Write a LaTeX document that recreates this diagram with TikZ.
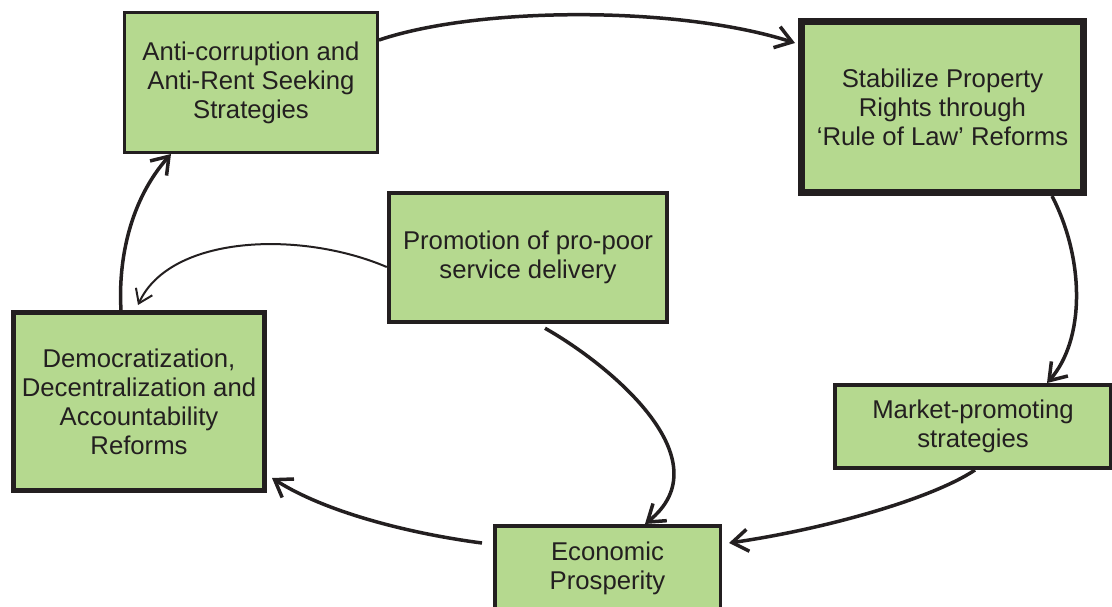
\documentclass[tikz,border=0pt]{standalone}
\usepackage{fontspec}
\setmainfont{Liberation Sans}
\usetikzlibrary{arrows.meta}
\definecolor{boxgreen}{RGB}{181,217,143}
\definecolor{ink}{RGB}{35,31,32}
\tikzset{
  box/.style={draw=ink, fill=boxgreen, text=ink, rectangle, inner sep=0pt, align=center,
    font=\fontsize{25.7}{29}\selectfont},
  flow/.style={draw=ink, line width=3.5pt, -{Straight Barb[length=16pt,width=22pt,line width=3.5pt]}},
  thinflow/.style={draw=ink, line width=2pt, -{Straight Barb[length=13pt,width=18pt,line width=2pt]}}
}
\begin{document}
\begin{tikzpicture}[x=1pt,y=-1pt]
\useasboundingbox (0,0) rectangle (1112,607);
\node[box, line width=3pt, minimum width=253pt, minimum height=140pt] (b1) at (251,82.5)
  {Anti-corruption and\\Anti-Rent Seeking\\Strategies};
\node[box, line width=7pt, minimum width=282pt, minimum height=171pt] (b2) at (942.5,107)
  {Stabilize Property\\Rights through\\‘Rule of Law’ Reforms};
\node[box, line width=5pt, minimum width=251pt, minimum height=178pt] (b3) at (139,401.5)
  {Democratization,\\Decentralization and\\Accountability\\Reforms};
\node[box, line width=3.5pt, minimum width=225.5pt, minimum height=85.5pt] (b4) at (607.5,568.5)
  {Economic\\Prosperity};
\node[box, line width=4pt, minimum width=276pt, minimum height=83pt] (b5) at (973,426.5)
  {Market-promoting\\strategies};
\node[box, line width=4.5pt, minimum width=278pt, minimum height=129pt] (b6) at (528,257.5)
  {Promotion of pro-poor\\service delivery};

\draw[flow] ([yshift=42.5pt]b1.east) .. controls (480,6) and (680,6) .. ([xshift=-3pt,yshift=64pt]b2.west);
\draw[flow] ([xshift=109.5pt]b2.south) .. controls (1085,260) and (1085,340) .. ([xshift=74pt]b5.north);
\draw[flow] ([xshift=2pt]b5.south) .. controls (930,500) and (820,530) .. ([xshift=7pt,yshift=25.5pt]b4.east);
\draw[flow] ([xshift=-11pt,yshift=25.5pt]b4.west) .. controls (420,535) and (330,515) .. ([xshift=5pt,yshift=15pt]b3.south east);
\draw[flow] ([xshift=-18pt]b3.north) .. controls (118,260) and (130,200) .. ([xshift=-80pt]b1.south);
\draw[thinflow] ([yshift=-9.5pt]b6.west) .. controls (300,230) and (170,235) .. ([xshift=-1pt,yshift=5pt]b3.north);
\draw[flow] ([xshift=17pt,yshift=-4pt]b6.south) .. controls (610,365) and (725,460) .. ([xshift=37.5pt]b4.north);
\end{tikzpicture}
\end{document}
